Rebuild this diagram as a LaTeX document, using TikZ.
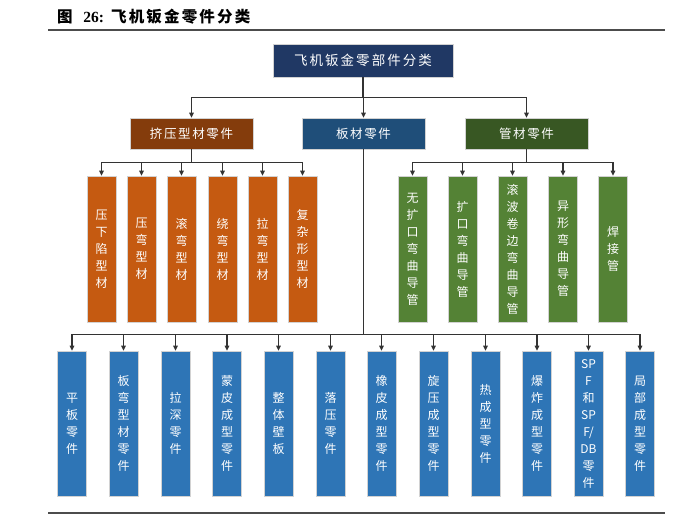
\documentclass[tikz,border=0pt]{standalone}
\usepackage{fontspec}
\setmainfont{Noto Sans CJK SC}
\newfontfamily\numfont{Liberation Serif}
\usepackage{xcolor}
\usetikzlibrary{arrows.meta}
\usetikzlibrary{positioning}

\definecolor{topnavy}{HTML}{203864}
\definecolor{extbrown}{HTML}{843C0C}
\definecolor{platenavy}{HTML}{1F4E79}
\definecolor{tubegreen}{HTML}{385723}
\definecolor{leaforange}{HTML}{C55A11}
\definecolor{leafgreen}{HTML}{548235}
\definecolor{leafblue}{HTML}{2E75B6}

\tikzset{
	hbox/.style={draw=gray!35, line width=.6pt, text=white, inner sep=0pt},
	vbox/.style={draw=gray!35, line width=.6pt, text=white, inner sep=0pt,
		minimum width=29pt, minimum height=146pt, align=center,
		font=\fontsize{12}{17}\selectfont},
	conn/.style={line width=1.1pt, draw=black!80},
	arr/.style={conn, -{Triangle[length=5pt,width=4.5pt]}},
	rule/.style={line width=1.4pt, draw=black!70},
}

\begin{document}
\begin{tikzpicture}[x=1pt,y=-1pt]
			\useasboundingbox (0,0) rectangle (700,522);
			
			%title
			\node[anchor=west, inner sep=0pt] (title) at (57,17) {\fontsize{15.5}{18}\selectfont\bfseries 图\ \ \ {\numfont\bfseries 26:}\ \ \addfontfeature{LetterSpace=14}飞机钣金零件分类};
			\draw[rule] (48,30) -- (665,30);
			\draw[rule] (48,513) -- (665,513);
			
			%top and second level
			\node[hbox, fill=topnavy, minimum width=180pt, minimum height=33pt] (top) at (363,60.5) {\fontsize{13.5}{16}\selectfont\addfontfeature{LetterSpace=15}飞机钣金零部件分类};
			\node[hbox, fill=extbrown, minimum width=123pt, minimum height=31pt] (ext) at (191.5,133.5) {\fontsize{12.5}{15}\selectfont\addfontfeature{LetterSpace=13}挤压型材零件};
			\node[hbox, fill=platenavy, minimum width=123pt, minimum height=31pt] (plate) at (363.5,133.5) {\fontsize{12.5}{15}\selectfont\addfontfeature{LetterSpace=13}板材零件};
			\node[hbox, fill=tubegreen, minimum width=123pt, minimum height=31pt] (tube) at (526.5,133.5) {\fontsize{12.5}{15}\selectfont\addfontfeature{LetterSpace=13}管材零件};
			
			%extruded profiles
			\node[vbox, fill=leaforange] (o1) at (101.5,249) {压\\下\\陷\\型\\材};
			\node[vbox, fill=leaforange] (o2) at (141.5,249) {压\\弯\\型\\材};
			\node[vbox, fill=leaforange] (o3) at (181.5,249) {滚\\弯\\型\\材};
			\node[vbox, fill=leaforange] (o4) at (222.5,249) {绕\\弯\\型\\材};
			\node[vbox, fill=leaforange] (o5) at (262.5,249) {拉\\弯\\型\\材};
			\node[vbox, fill=leaforange] (o6) at (302.5,249) {复\\杂\\形\\型\\材};
			
			%tubes
			\node[vbox, fill=leafgreen] (g1) at (412.5,249) {无\\扩\\口\\弯\\曲\\导\\管};
			\node[vbox, fill=leafgreen] (g2) at (462.5,249) {扩\\口\\弯\\曲\\导\\管};
			\node[vbox, fill=leafgreen] (g3) at (512.5,249) {滚\\波\\卷\\边\\弯\\曲\\导\\管};
			\node[vbox, fill=leafgreen] (g4) at (563,249) {异\\形\\弯\\曲\\导\\管};
			\node[vbox, fill=leafgreen] (g5) at (613,249) {焊\\接\\管};
			
			%sheet parts
			\node[vbox, fill=leafblue, minimum height=145pt] (b1) at (72,423.5) {平\\板\\零\\件};
			\node[vbox, fill=leafblue, minimum height=145pt] (b2) at (123.5,423.5) {板\\弯\\型\\材\\零\\件};
			\node[vbox, fill=leafblue, minimum height=145pt] (b3) at (175.5,423.5) {拉\\深\\零\\件};
			\node[vbox, fill=leafblue, minimum height=145pt] (b4) at (227,423.5) {蒙\\皮\\成\\型\\零\\件};
			\node[vbox, fill=leafblue, minimum height=145pt] (b5) at (278.5,423.5) {整\\体\\壁\\板};
			\node[vbox, fill=leafblue, minimum height=145pt] (b6) at (330.5,423.5) {落\\压\\零\\件};
			\node[vbox, fill=leafblue, minimum height=145pt] (b7) at (381.5,423.5) {橡\\皮\\成\\型\\零\\件};
			\node[vbox, fill=leafblue, minimum height=145pt] (b8) at (433.5,423.5) {旋\\压\\成\\型\\零\\件};
			\node[vbox, fill=leafblue, minimum height=145pt] (b9) at (485.5,423.5) {热\\成\\型\\零\\件};
			\node[vbox, fill=leafblue, minimum height=145pt] (b10) at (537,423.5) {爆\\炸\\成\\型\\零\\件};
			\node[vbox, fill=leafblue, minimum height=145pt] (b11) at (588.5,423.5) {SP\\F\\和\\SP\\F/\\DB\\零\\件};
			\node[vbox, fill=leafblue, minimum height=145pt] (b12) at (640,423.5) {局\\部\\成\\型\\零\\件};
			
			% add arrows
			\path (top.south) ++(0,20) coordinate (j0);
			\draw[conn] (top.south) -- (j0);
			\draw[arr] (j0) -| (ext.north);
			\draw[arr] (j0) -| (plate.north);
			\draw[arr] (j0) -| (tube.north);
			
			\path (ext.south) ++(0,13) coordinate (j1);
			\draw[conn] (ext.south) -- (j1);
			\draw[arr] (j1) -| (o1.north);
			\draw[arr] (j1) -| (o2.north);
			\draw[arr] (j1) -| (o3.north);
			\draw[arr] (j1) -| (o4.north);
			\draw[arr] (j1) -| (o5.north);
			\draw[arr] (j1) -| (o6.north);
			
			\path (tube.south) ++(0,13) coordinate (j2);
			\draw[conn] (tube.south) -- (j2);
			\draw[arr] (j2) -| (g1.north);
			\draw[arr] (j2) -| (g2.north);
			\draw[arr] (j2) -| (g3.north);
			\draw[arr] (j2) -| (g4.north);
			\draw[arr] (j2) -| (g5.north);
			
			\path (plate.south) ++(0,185) coordinate (j3);
			\draw[conn] (plate.south) -- (j3);
			\draw[arr] (j3) -| (b1.north);
			\draw[arr] (j3) -| (b2.north);
			\draw[arr] (j3) -| (b3.north);
			\draw[arr] (j3) -| (b4.north);
			\draw[arr] (j3) -| (b5.north);
			\draw[arr] (j3) -| (b6.north);
			\draw[arr] (j3) -| (b7.north);
			\draw[arr] (j3) -| (b8.north);
			\draw[arr] (j3) -| (b9.north);
			\draw[arr] (j3) -| (b10.north);
			\draw[arr] (j3) -| (b11.north);
			\draw[arr] (j3) -| (b12.north);
			
		\end{tikzpicture}
\end{document}
